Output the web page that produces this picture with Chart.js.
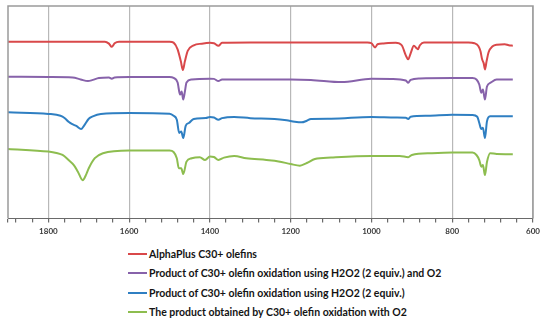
<!DOCTYPE html>
<html>
<head>
<meta charset="utf-8">
<script src="https://cdn.jsdelivr.net/npm/chart.js@4.4.1/dist/chart.umd.min.js"></script>
<style>
  html, body { margin: 0; padding: 0; background: #ffffff; }
  #wrap { position: relative; width: 550px; height: 321px; overflow: hidden; }
  #chartBox { position: absolute; left: 0; top: 0; width: 550px; height: 240px; }
  #legend { position: absolute; left: 128px; top: 244px; font-family: Lato, "Liberation Sans", sans-serif; font-weight: bold; font-size: 10.5px; color: #141414; }
  .item { height: 19.5px; display: flex; align-items: center; white-space: nowrap; }
  .sw { width: 19px; height: 2px; margin-right: 2px; }
</style>
</head>
<body>
<div id="wrap">
  <div id="chartBox"><canvas id="c" width="550" height="240"></canvas></div>
  <div id="legend"></div>
</div>
<script>
// ---- Data (wavenumber, cm-1 ; relative transmittance, offset traces) ----
const seriesNames = [
  "AlphaPlus C30+ olefins",
  "Product of C30+ olefin oxidation using H2O2 (2 equiv.) and O2",
  "Product of C30+ olefin oxidation using H2O2 (2 equiv.)",
  "The product obtained by C30+ olefin oxidation with O2"
];
const seriesColors = ["#d9484a", "#8762aa", "#2f7fc2", "#8dbd4f"];

const alphaWn = [1900,1800,1700,1660,1650,1643,1636,1625,1500,1490,1480,1472,1467,1462,1455,1440,1420,1400,1390,1379,1370,1300,1200,1100,1010,1000,991,985,970,940,925,915,909,903,895,888,885,880,870,800,760,745,735,730,726,722,719,715,710,700,690,670,660,650];
const alphaT  = [87.7,87.7,87.8,87.8,86.8,85.2,87.0,87.8,87.8,87.3,84.0,78.0,73.7,78.0,83.2,86.0,86.8,87.2,87.0,85.7,87.2,87.4,87.4,87.4,87.4,87.0,84.9,86.5,86.9,87.3,86.0,81.0,79.0,82.0,85.7,84.5,84.0,86.0,87.4,87.4,87.4,87.0,85.5,83.0,79.0,77.0,74.0,78.0,82.5,85.5,86.3,86.5,86.0,85.8];

const h2o2O2Wn = [1900,1800,1740,1720,1702,1690,1675,1650,1643,1636,1600,1500,1490,1480,1474,1470,1466,1462,1458,1445,1400,1390,1379,1370,1300,1200,1150,1074,1000,950,915,909,903,880,800,750,740,733,728,724,719,714,705,690,650];
const h2o2O2T  = [70.4,70.2,70.0,69.0,68.2,68.8,69.7,70.0,69.4,70.0,70.2,70.2,69.8,67.5,61.5,63.0,59.0,63.0,67.5,69.0,69.4,69.3,68.2,69.0,69.0,69.0,68.8,67.7,69.4,69.3,68.5,67.4,68.8,69.5,69.7,69.7,69.0,66.5,62.4,64.0,59.0,65.5,67.4,69.0,69.0];

const h2o2Wn = [1900,1800,1770,1760,1750,1742,1730,1719,1712,1700,1690,1670,1600,1500,1490,1482,1476,1471,1466,1460,1452,1440,1410,1400,1390,1379,1370,1340,1300,1240,1210,1190,1173,1160,1150,1100,1000,940,915,909,903,860,800,750,738,733,728,724,719,714,706,690,650];
const h2o2T  = [52.7,51.9,51.0,49.9,48.0,46.9,45.8,44.4,46.0,49.5,50.7,51.9,52.4,52.0,51.0,49.0,42.4,43.2,39.9,46.0,47.4,49.4,49.9,50.4,50.1,49.0,49.8,50.4,49.8,49.4,48.7,48.0,47.7,48.5,49.4,49.5,50.4,50.1,50.0,49.4,50.5,51.0,51.5,51.4,50.5,47.4,44.4,45.0,39.9,48.2,50.7,50.8,50.7];

const o2Wn = [1900,1800,1780,1765,1750,1737,1727,1715,1706,1700,1685,1665,1600,1500,1490,1482,1477,1471,1466,1458,1445,1425,1412,1400,1390,1379,1365,1340,1310,1260,1230,1200,1177,1160,1140,1100,1000,930,909,900,850,800,750,740,733,728,724,719,714,706,690,650];
const o2T  = [34.5,33.2,32.5,31.5,29.0,26.5,23.2,19.0,22.0,24.9,29.9,32.4,33.7,33.7,33.0,29.9,24.9,24.9,22.0,28.2,29.9,30.4,29.0,30.7,30.5,29.0,30.2,31.0,29.9,29.0,28.3,27.0,26.2,27.5,29.5,30.2,31.0,31.0,30.4,31.5,32.4,32.7,32.7,31.5,29.0,25.7,26.5,21.5,28.0,32.4,32.0,31.9];

const xMin = 600, xMax = 1900, xStep = 40, labelStep = 200;
const xTickLabels = ["1800","1600","1400","1200","1000","800","600"];

// ---- Build datasets ----
const wnArrays = [alphaWn, h2o2O2Wn, h2o2Wn, o2Wn];
const tArrays  = [alphaT, h2o2O2T, h2o2T, o2T];
const datasets = seriesNames.map((name, i) => ({
  label: name,
  data: wnArrays[i].map((w, j) => ({ x: w, y: tArrays[i][j] })),
  borderColor: seriesColors[i],
  backgroundColor: seriesColors[i],
  borderWidth: 2,
  pointRadius: 0,
  cubicInterpolationMode: 'monotone',
  fill: false
}));

const framePlugin = {
  id: 'frame',
  afterDraw(chart) {
    const { ctx, chartArea: a } = chart;
    ctx.save();
    ctx.strokeStyle = '#9a9a9a';
    ctx.lineWidth = 1.5;
    ctx.beginPath();
    ctx.moveTo(a.left, a.bottom);
    ctx.lineTo(a.left, a.top);
    ctx.lineTo(a.right, a.top);
    ctx.lineTo(a.right, a.bottom);
    ctx.stroke();
    ctx.restore();
  }
};

new Chart(document.getElementById('c'), {
  type: 'line',
  data: { datasets },
  plugins: [framePlugin],
  options: {
    responsive: false,
    animation: false,
    layout: { padding: { left: 8, right: 17, top: 6, bottom: 0 } },
    plugins: { legend: { display: false }, tooltip: { enabled: false } },
    scales: {
      x: {
        type: 'linear',
        reverse: true,
        min: xMin,
        max: xMax,
        afterBuildTicks(axis) {
          const t = [];
          for (let v = xMin; v <= xMax - xStep / 2; v += xStep) t.push({ value: v });
          t.push({ value: xMax });
          axis.ticks = t;
        },
        ticks: {
          autoSkip: false,
          maxRotation: 0,
          padding: 4,
          color: '#3a3a3a',
          font: { family: 'Lato, "Liberation Sans", sans-serif', size: 8, weight: 'bold' },
          callback: (v) => {
            const s = String(v);
            return (v % labelStep === 0 && xTickLabels.includes(s)) ? s : '';
          }
        },
        grid: {
          drawOnChartArea: true,
          color: (c) => (c.tick && c.tick.value % labelStep === 0) ? '#b8b8b8' : 'rgba(0,0,0,0)',
          tickColor: '#6a6a6a',
          tickLength: 4,
          lineWidth: 1.2
        },
        border: { display: true, color: '#6a6a6a', width: 1 }
      },
      y: {
        display: false,
        min: 0,
        max: 105.5
      }
    }
  }
});

// ---- HTML legend (real text) ----
const lg = document.getElementById('legend');
seriesNames.forEach((n, i) => {
  const row = document.createElement('div');
  row.className = 'item';
  const sw = document.createElement('span');
  sw.className = 'sw';
  sw.style.background = seriesColors[i];
  const tx = document.createElement('span');
  tx.textContent = n;
  row.appendChild(sw);
  row.appendChild(tx);
  lg.appendChild(row);
});
</script>
</body>
</html>
